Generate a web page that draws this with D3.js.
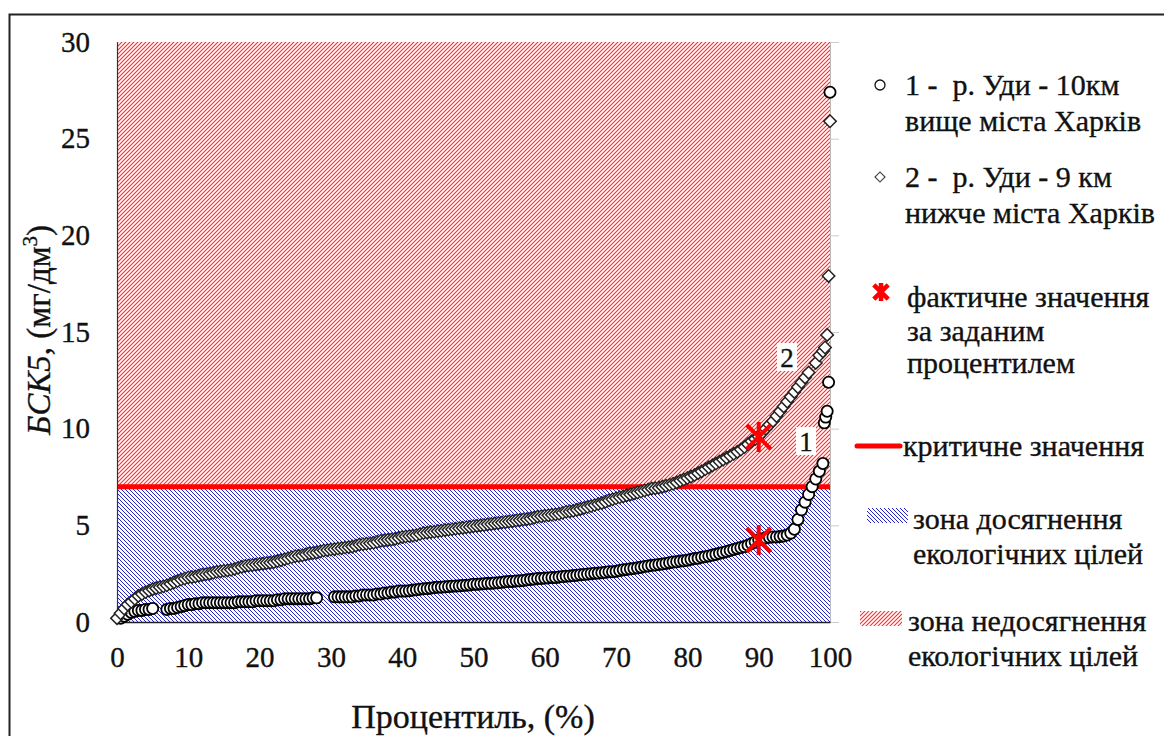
<!DOCTYPE html>
<html><head><meta charset="utf-8">
<script src="https://cdn.jsdelivr.net/npm/d3@7"></script>
<style>
body{margin:0;background:#fff;}
svg text{font-family:"Liberation Serif","Times New Roman",serif !important;fill:#111;stroke:#111;stroke-width:0.35px;white-space:pre;}
</style>
</head><body>
<svg id="chart" width="1164" height="736"></svg>
<script>
// ---------- data ----------
const xTicks = [0,10,20,30,40,50,60,70,80,90,100];
const yTicks = [0,5,10,15,20,25,30];
const criticalValue = 7;
const targetPercentile = 90;
const actualAtTarget = [4.24, 9.57];   // series 1, series 2

// series 1: р. Уди – 10 км вище міста Харків (circles)
const pct1 = [
  0.5,1,1.5,2,2.5,3,3.5,4,4.5,5,
  7,7.5,8,8.5,9,9.5,
  10,10.5,11,11.5,12,12.5,13,13.5,14,14.5,
  15,15.5,16,16.5,17,17.5,18,18.5,19,19.5,
  20,20.5,21,21.5,22,22.5,23,23.5,24,24.5,
  25,25.5,26,26.5,27,27.5,28,
  30.5,
  31,31.5,32,32.5,33,33.5,34,34.5,35,35.5,
  36,36.5,37,37.5,38,38.5,39,39.5,40,40.5,
  41,41.5,42,42.5,43,43.5,44,44.5,45,45.5,
  46,46.5,47,47.5,48,48.5,49,49.5,50,50.5,
  51,51.5,52,52.5,53,53.5,54,54.5,55,55.5,
  56,56.5,57,57.5,58,58.5,59,59.5,60,60.5,
  61,61.5,62,62.5,63,63.5,64,64.5,65,65.5,
  66,66.5,67,67.5,68,68.5,69,69.5,70,70.5,
  71,71.5,72,72.5,73,73.5,74,74.5,75,75.5,
  76,76.5,77,77.5,78,78.5,79,79.5,80,80.5,
  81,81.5,82,82.5,83,83.5,84,84.5,85,85.5,
  86,86.5,87,87.5,88,88.5,89,89.5,90,90.5,
  91,91.5,92,92.5,93,93.5,94,94.5,95,95.5,
  96,96.5,97,97.5,98,98.5,99,
  99.2,99.4,99.6,99.8,100];
const val1 = [
  0.2,0.3,0.4,0.5,0.55,0.6,0.6,0.65,0.65,0.7,
  0.65,0.7,0.7,0.75,0.8,0.85,
  0.9,0.9,0.95,0.95,1.0,1.0,1.0,1.0,1.0,1.0,
  1.0,1.0,1.0,1.0,1.05,1.05,1.05,1.05,1.05,1.1,
  1.1,1.1,1.1,1.1,1.1,1.15,1.15,1.2,1.2,1.2,
  1.2,1.2,1.2,1.2,1.2,1.25,1.25,
  1.3,
  1.3,1.3,1.3,1.3,1.3,1.35,1.35,1.4,1.4,1.4,
  1.4,1.45,1.45,1.5,1.5,1.55,1.55,1.6,1.6,1.6,
  1.62,1.65,1.67,1.7,1.72,1.73,1.75,1.78,1.8,1.8,
  1.82,1.83,1.85,1.86,1.87,1.89,1.9,1.92,1.95,1.95,
  1.97,1.98,2.0,2.0,2.02,2.03,2.05,2.08,2.1,2.1,
  2.12,2.13,2.15,2.18,2.2,2.22,2.25,2.25,2.27,2.28,
  2.3,2.3,2.33,2.35,2.37,2.38,2.4,2.42,2.45,2.46,
  2.48,2.5,2.52,2.53,2.55,2.57,2.6,2.6,2.62,2.66,
  2.7,2.72,2.75,2.77,2.8,2.83,2.87,2.9,2.93,2.95,
  2.98,3.0,3.03,3.07,3.1,3.12,3.15,3.17,3.2,3.24,
  3.28,3.3,3.35,3.38,3.42,3.46,3.5,3.55,3.6,3.65,
  3.7,3.75,3.8,3.85,3.9,3.97,4.05,4.15,4.25,4.3,
  4.35,4.38,4.4,4.4,4.42,4.45,4.5,4.6,4.8,5.3,
  5.8,6.2,6.6,7.0,7.4,7.8,8.2,
  10.3,10.6,10.9,12.4,27.4];

// series 2: р. Уди – 9 км нижче міста Харків (diamonds)
const pct2 = [
  0,0.5,1,1.5,2,2.5,3,3.5,4,4.5,
  5,5.5,6,6.5,7,7.5,8,8.5,9,9.5,
  10,10.5,11,11.5,12,12.5,13,13.5,14,14.5,
  15,15.5,16,16.5,17,17.5,18,18.5,19,19.5,
  20,20.5,21,21.5,22,22.5,23,23.5,24,24.5,
  25,25.5,26,26.5,27,27.5,28,28.5,29,29.5,
  30,30.5,31,31.5,32,32.5,33,33.5,34,34.5,
  35,35.5,36,36.5,37,37.5,38,38.5,39,39.5,
  40,40.5,41,41.5,42,42.5,43,43.5,44,44.5,
  45,45.5,46,46.5,47,47.5,48,48.5,49,49.5,
  50,50.5,51,51.5,52,52.5,53,53.5,54,54.5,
  55,55.5,56,56.5,57,57.5,58,58.5,59,59.5,
  60,60.5,61,61.5,62,62.5,63,63.5,64,64.5,
  65,65.5,66,66.5,67,67.5,68,68.5,69,69.5,
  70,70.5,71,71.5,72,72.5,73,73.5,74,74.5,
  75,75.5,76,76.5,77,77.5,78,78.5,79,79.5,
  80,80.5,81,81.5,82,82.5,83,83.5,84,84.5,
  85,85.5,86,86.5,87,87.5,88,88.5,89,89.5,
  90,90.5,91,91.5,92,92.5,93,93.5,94,94.5,
  95,95.5,96,96.5,97,
  98,98.5,99,99.3,99.6,99.8,100];
const val2 = [
  0.2,0.45,0.7,0.9,1.05,1.2,1.35,1.45,1.55,1.62,
  1.7,1.75,1.8,1.85,1.9,1.97,2.05,2.12,2.2,2.25,
  2.3,2.32,2.35,2.4,2.45,2.47,2.5,2.55,2.6,2.62,
  2.65,2.67,2.7,2.75,2.8,2.85,2.9,2.92,2.95,2.97,
  3.0,3.02,3.05,3.07,3.1,3.15,3.2,3.25,3.3,3.35,
  3.4,3.42,3.45,3.5,3.55,3.57,3.6,3.65,3.7,3.72,
  3.75,3.77,3.8,3.82,3.85,3.87,3.9,3.95,4.0,4.02,
  4.05,4.07,4.1,4.15,4.2,4.22,4.25,4.27,4.3,4.35,
  4.4,4.42,4.45,4.47,4.5,4.55,4.6,4.62,4.65,4.67,
  4.7,4.72,4.75,4.77,4.8,4.82,4.85,4.87,4.9,4.92,
  4.95,4.97,5.0,5.02,5.05,5.07,5.1,5.12,5.15,5.17,
  5.2,5.22,5.25,5.27,5.3,5.32,5.35,5.4,5.45,5.47,
  5.5,5.52,5.55,5.57,5.6,5.65,5.7,5.72,5.75,5.8,
  5.85,5.9,5.95,6.0,6.05,6.1,6.15,6.22,6.3,6.35,
  6.4,6.45,6.5,6.55,6.6,6.65,6.7,6.75,6.8,6.85,
  6.9,6.92,6.95,7.0,7.05,7.1,7.15,7.22,7.3,7.37,
  7.45,7.52,7.6,7.7,7.8,7.9,8.0,8.1,8.2,8.3,
  8.4,8.5,8.6,8.7,8.8,8.92,9.05,9.2,9.35,9.47,
  9.6,9.8,10.0,10.2,10.4,10.65,10.9,11.15,11.4,11.65,
  11.9,12.15,12.4,12.65,12.9,
  13.4,13.8,14.0,14.2,14.85,17.9,25.9];

const legendLabels = [
  ["1 -  р. Уди - 10км","вище міста Харків"],
  ["2 -  р. Уди - 9 км","нижче міста Харків"],
  ["фактичне значення","за заданим","процентилем"],
  ["критичне значення"],
  ["зона досягнення","екологічних цілей"],
  ["зона недосягнення","екологічних цілей"]
];
const xTitle = "Процентиль, (%)";

if (pct1.length !== val1.length || pct2.length !== val2.length)
  console.error("length mismatch", pct1.length, val1.length, pct2.length, val2.length);

// ---------- drawing ----------
const svg = d3.select("#chart");
const W = 1164, H = 736;
const x = d3.scaleLinear().domain([0,100]).range([117,830]);
const y = d3.scaleLinear().domain([0,30]).range([622,42]);

const defs = svg.append("defs");
function hatch(id, color, dir, w){
  const p = defs.append("pattern").attr("id",id).attr("patternUnits","userSpaceOnUse")
    .attr("width",4).attr("height",4);
  p.append("rect").attr("width",4).attr("height",4).attr("fill","#fff");
  const d = dir === "up"
    ? "M-1,1 l2,-2 M0,4 l4,-4 M3,5 l2,-2"
    : "M-1,3 l2,2 M0,0 l4,4 M3,-1 l2,2";
  p.append("path").attr("d",d).attr("stroke",color).attr("stroke-width",w);
}
hatch("redHatch","#ff2a2a","up",1.1);
hatch("blueHatch","#2424c8","down",1.0);

// frame
svg.append("rect").attr("x",9.5).attr("y",14.5).attr("width",W).attr("height",H)
  .attr("fill","none").attr("stroke","#222").attr("stroke-width",2);

// zones
svg.append("rect").attr("x",x(0)).attr("y",y(30)).attr("width",x(100)-x(0))
  .attr("height",y(criticalValue)-y(30)).attr("fill","url(#redHatch)");
svg.append("rect").attr("x",x(0)).attr("y",y(criticalValue)).attr("width",x(100)-x(0))
  .attr("height",y(0)-y(criticalValue)).attr("fill","url(#blueHatch)");

// critical line
svg.append("line").attr("x1",x(0)).attr("x2",x(100)).attr("y1",y(criticalValue)).attr("y2",y(criticalValue))
  .attr("stroke","#ff0000").attr("stroke-width",5);

// axes
const fsTick = 29;
const yAxisL = d3.axisLeft(y).tickValues(yTicks).tickSize(0).tickPadding(27);
const gL = svg.append("g").attr("transform",`translate(${x(0)},0)`).call(yAxisL);
gL.select(".domain").attr("stroke","#333").attr("stroke-width",1.2);
gL.selectAll("text").attr("font-size",fsTick);

const yAxisR = d3.axisRight(y).tickValues(yTicks).tickSize(9).tickFormat("");
const gR = svg.append("g").attr("transform",`translate(${x(100)},0)`).call(yAxisR);
gR.select(".domain").attr("stroke","#bbb");
gR.selectAll(".tick line").attr("stroke","#ccc");

const xAxis = d3.axisBottom(x).tickValues(xTicks).tickSize(0).tickPadding(24);
const gB = svg.append("g").attr("transform",`translate(0,${y(0)})`).call(xAxis);
gB.select(".domain").attr("stroke","#222").attr("stroke-width",1.5);
gB.selectAll("text").attr("font-size",fsTick);

// axis titles
svg.append("text").attr("x",473).attr("y",728).attr("text-anchor","middle")
  .attr("font-size",34).text(xTitle);
const yt = svg.append("text").attr("transform","translate(50,330) rotate(-90)")
  .attr("text-anchor","middle").attr("font-size",33);
yt.append("tspan").attr("font-style","italic").text("БСК5");
yt.append("tspan").text(", (мг/дм");
yt.append("tspan").attr("font-size",21).attr("dy",-13).text("3");
yt.append("tspan").attr("dy",13).text(")");

// series
const s1 = pct1.map((p,i)=>({p, v:val1[i]}));
const s2 = pct2.map((p,i)=>({p, v:val2[i]}));
const diamond = d3.symbol().type(d3.symbolSquare).size(78);

svg.append("g").selectAll("circle").data(s1).join("circle")
  .attr("cx",d=>x(d.p)).attr("cy",d=>y(d.v)).attr("r",5.6)
  .attr("fill","#fff").attr("stroke","#000").attr("stroke-width",1.8);

svg.append("g").selectAll("path").data(s2).join("path")
  .attr("d",diamond)
  .attr("transform",d=>`translate(${x(d.p)},${y(d.v)}) rotate(45)`)
  .attr("fill","#fff").attr("stroke","#222").attr("stroke-width",1.5);

// asterisks at target percentile
function star(g, cx, cy, r, sw){
  const a = r*0.8;
  g.append("path")
    .attr("d",`M${cx-a},${cy-a}L${cx+a},${cy+a}M${cx-a},${cy+a}L${cx+a},${cy-a}M${cx},${cy-r}L${cx},${cy+r}`)
    .attr("stroke","#ff0000").attr("stroke-width",sw).attr("fill","none");
}
const gs = svg.append("g");
actualAtTarget.forEach(v=>star(gs, x(targetPercentile), y(v), 15, 4));

// curve labels
function tag(t, cx, cy){
  svg.append("rect").attr("x",cx-10).attr("y",cy-15).attr("width",20).attr("height",28).attr("fill","#fff");
  svg.append("text").attr("x",cx).attr("y",cy+9).attr("text-anchor","middle").attr("font-size",27).text(t);
}
tag("2", 787, 358);
tag("1", 806, 442);

// legend
const lg = svg.append("g");
const fs = 30;
const rows = [
  {x:905, y:[95,131]},{x:905, y:[187,223]},{x:907, y:[307,341,373]},{x:903, y:[456]},
  {x:913, y:[529,564]},{x:908, y:[631,666]}
];
legendLabels.forEach((lines,i)=>{
  lines.forEach((t,j)=>lg.append("text").attr("x",rows[i].x).attr("y",rows[i].y[j]).attr("font-size",fs).text(t));
});
lg.append("circle").attr("cx",880).attr("cy",85).attr("r",5).attr("fill","#fff").attr("stroke","#111").attr("stroke-width",1.3);
lg.append("path").attr("d",d3.symbol().type(d3.symbolSquare).size(50)).attr("transform","translate(880,177) rotate(45)")
  .attr("fill","#fff").attr("stroke","#444").attr("stroke-width",1.2);
star(lg, 881, 292, 9, 4.5);
lg.append("line").attr("x1",857).attr("x2",900).attr("y1",446).attr("y2",446)
  .attr("stroke","#ff0000").attr("stroke-width",5).attr("stroke-linecap","round");
lg.append("rect").attr("x",867).attr("y",508).attr("width",41).attr("height",15).attr("fill","url(#blueHatch)");
lg.append("rect").attr("x",860).attr("y",611).attr("width",42).attr("height",15).attr("fill","url(#redHatch)");
</script>
</body></html>
